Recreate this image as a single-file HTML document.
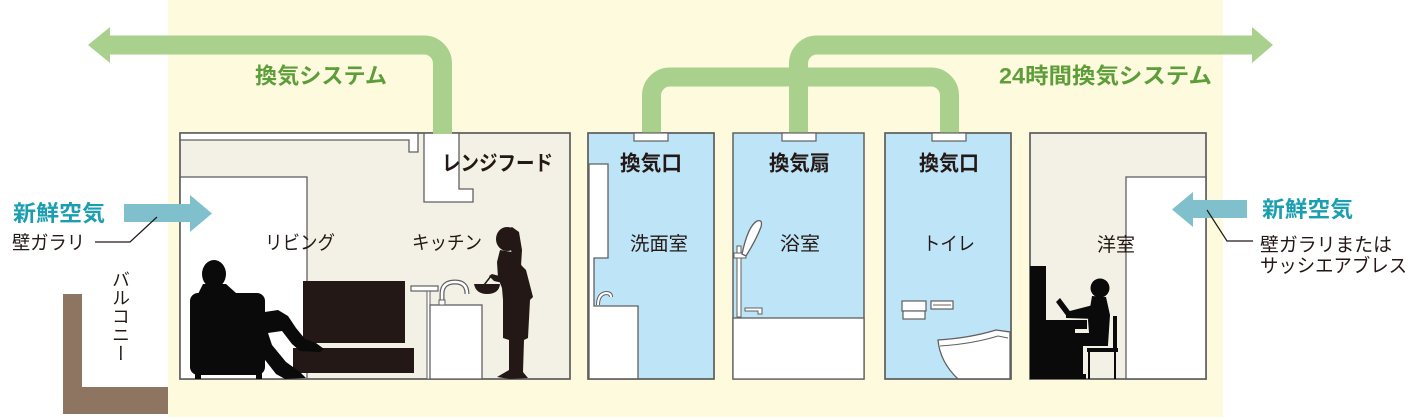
<!DOCTYPE html>
<html><head><meta charset="utf-8">
<style>
html,body{margin:0;padding:0;background:#fff;}
#wrap{position:relative;width:1420px;height:420px;overflow:hidden;background:#fff;}
svg{position:absolute;left:0;top:0;}
text{font-family:"Liberation Sans","Noto Sans CJK JP",sans-serif;}
.vt{position:absolute;left:109px;top:270px;writing-mode:vertical-rl;font-family:"Liberation Sans","Noto Sans CJK JP",sans-serif;font-size:18px;line-height:22px;color:#231815;letter-spacing:0.5px;}
</style></head><body>
<div id="wrap">
<svg width="1420" height="420" viewBox="0 0 1420 420" xmlns="http://www.w3.org/2000/svg">
  <!-- yellow background -->
  <rect x="168" y="0" width="1055" height="417" fill="#fefadd"/>
  <!-- balcony -->
  <polygon points="63,294 82,294 82,387 168,387 168,414 63,414" fill="#8e7562"/>

  <!-- Living / kitchen room -->
  <rect x="180" y="133" width="390" height="246" fill="#f3f1e6" stroke="#606060" stroke-width="1.5"/>
  <polygon points="180,133 418,133 418,152 409,152 409,140 180,140" fill="#fff" stroke="#606060" stroke-width="1.3"/>
  <rect x="180" y="177" width="127" height="202" fill="#fff" stroke="#606060" stroke-width="1.3"/>
  <polygon points="424,133 459,133 459,189 473,189 473,202 424,202" fill="#fff" stroke="#606060" stroke-width="1.3"/>
  <rect x="180" y="133" width="390" height="246" fill="none" stroke="#606060" stroke-width="1.5"/>

  <!-- TV -->
  <rect x="303" y="281" width="102" height="62" fill="#231815"/>
  <rect x="293" y="348" width="121" height="25" fill="#231815"/>
  <!-- chair + man -->
  <g fill="#0a0a0a">
    <rect x="190" y="293" width="75" height="82" rx="8"/>
    <rect x="195" y="373" width="6" height="6"/>
    <rect x="256" y="373" width="6" height="6"/>
    <ellipse cx="214" cy="274" rx="12" ry="14"/>
    <polygon points="203,284 226,284 236,293 248,305 258,313 278,310 288,316 296,328 305,339 316,343 324,349 320,352 300,351 292,344 282,331 268,333 272,345 286,362 300,372 306,378 285,379 276,374 262,356 248,346 225,340 195,332 195,300"/>
  </g>

  <!-- kitchen counter -->
  <rect x="411" y="286" width="27" height="5" fill="#fff" stroke="#606060" stroke-width="1.2"/>
  <rect x="427" y="291" width="3" height="88" fill="#fff" stroke="#606060" stroke-width="1"/>
  <rect x="430" y="305" width="52" height="74" fill="#fff" stroke="#606060" stroke-width="1.3"/>
  <path d="M442,305 V294 Q442,282 455,282 Q467,282 467,294" fill="none" stroke="#606060" stroke-width="5"/>
  <path d="M442,305 V294 Q442,282 455,282 Q467,282 467,294" fill="none" stroke="#fff" stroke-width="2.5"/>
  <rect x="439" y="300" width="6" height="5" fill="#fff" stroke="#606060" stroke-width="1"/>
  <!-- woman -->
  <g fill="#231815">
    <ellipse cx="507" cy="239" rx="11" ry="12"/>
    <polygon points="498,234 512,227 519,232 522,250 521,266 514,262 511,250"/>
    <polygon points="500,250 512,252 520,262 526,276 530,300 528,338 524,340 523,372 528,378 510,379 497,377 509,370 509,340 503,338 503,300 502,288 498,278 497,262"/>
    <polygon points="503,277 507,284 494,281 489,276 492,274"/>
    <polygon points="518,262 526,270 533,297 529,301 520,286"/>
    <path d="M474,284 L500,284 Q499,294 487,294 Q476,294 474,284 Z"/>
  </g>
  <line x1="491" y1="276" x2="484" y2="285" stroke="#231815" stroke-width="1.5"/>

  <!-- Washroom -->
  <rect x="588" y="133" width="126" height="246" fill="#bde4f7" stroke="#606060" stroke-width="1.5"/>
  <path d="M589,164 H608 V258 H594 V306 H638 V379 H589 Z" fill="#fff" stroke="#606060" stroke-width="1.3"/>
  <path d="M598,305 Q598,294 606,293 Q611,293 611,297" fill="none" stroke="#606060" stroke-width="4"/>
  <path d="M598,305 Q598,294 606,293 Q611,293 611,297" fill="none" stroke="#fff" stroke-width="2"/>
  <rect x="588" y="133" width="126" height="246" fill="none" stroke="#606060" stroke-width="1.5"/>

  <!-- Bathroom -->
  <rect x="733" y="133" width="131" height="246" fill="#bde4f7" stroke="#606060" stroke-width="1.5"/>
  <rect x="733" y="318" width="131" height="61" fill="#fff" stroke="#606060" stroke-width="1.3"/>
  <rect x="737" y="246" width="4" height="71" fill="#fff" stroke="#606060" stroke-width="1"/>
  <rect x="734" y="253" width="12" height="5" fill="#fff" stroke="#606060" stroke-width="1"/>
  <path d="M742,254 Q748,226 757,221 Q763,219 761,227 Q756,240 746,256 Z" fill="#fff" stroke="#606060" stroke-width="1.3"/>
  <path d="M745,308 H762 V314 H758 V311 H745 Z" fill="#fff" stroke="#606060" stroke-width="1"/>

  <!-- Toilet -->
  <rect x="885" y="133" width="126" height="246" fill="#bde4f7" stroke="#606060" stroke-width="1.5"/>
  <rect x="902" y="301" width="24" height="10" fill="#fff" stroke="#606060" stroke-width="1.2"/>
  <rect x="903" y="311" width="22" height="8" fill="#fff" stroke="#606060" stroke-width="1.2"/>
  <rect x="931" y="301" width="22" height="8" fill="#fff" stroke="#606060" stroke-width="1.2"/>
  <line x1="933" y1="305" x2="951" y2="305" stroke="#606060" stroke-width="1"/>
  <path d="M938,340 Q970,338 996,330 L1010,332 L1010,379 L958,379 Q940,362 938,340 Z" fill="#fff" stroke="#606060" stroke-width="1.3"/>
  <path d="M940,346 Q972,344 998,336 L1008,338" fill="none" stroke="#606060" stroke-width="1"/>
  <rect x="885" y="133" width="126" height="246" fill="none" stroke="#606060" stroke-width="1.5"/>

  <!-- Western room -->
  <rect x="1030" y="133" width="176" height="246" fill="#f3f1e6" stroke="#606060" stroke-width="1.5"/>
  <rect x="1126" y="177" width="80" height="202" fill="#fff" stroke="#606060" stroke-width="1.3"/>
  <rect x="1030" y="133" width="176" height="246" fill="none" stroke="#606060" stroke-width="1.5"/>
  <g fill="#0a0a0a">
    <rect x="1030" y="266" width="16" height="56"/>
    <rect x="1030" y="320" width="57" height="9"/>
    <rect x="1030" y="329" width="45" height="50"/>
    <polygon points="1056,302 1060,298 1072,314 1068,318"/>
    <circle cx="1100" cy="288" r="9.5"/>
    <polygon points="1092,296 1106,297 1110,315 1108,345 1090,345 1088,320"/>
    <polygon points="1093,305 1066,312 1066,318 1096,319"/>
    <polygon points="1075,333 1107,333 1108,346 1075,346"/>
    <rect x="1075" y="345" width="8" height="32"/>
    <rect x="1072" y="374" width="14" height="5"/>
    <rect x="1087" y="348" width="31" height="4"/>
    <rect x="1113" y="316" width="4" height="36"/>
    <rect x="1088" y="352" width="2" height="27"/>
    <rect x="1114" y="352" width="2" height="27"/>
  </g>

  <!-- green ducts -->
  <g fill="none" stroke="#a9d08d" stroke-width="19">
    <path d="M108,45 H424 A18.5,18.5 0 0 1 442.5,63.5 V134"/>
    <path d="M798.5,134 V63.5 A18.5,18.5 0 0 1 817,45 H1254"/>
    <path d="M651.5,134 V95.5 A18.5,18.5 0 0 1 670,77 H931 A18.5,18.5 0 0 1 949.5,95.5 V134"/>
  </g>
  <polygon points="110,27 88,45 110,63" fill="#a9d08d"/>
  <polygon points="1252,27 1273,45 1252,63" fill="#a9d08d"/>

  <!-- vents -->
  <rect x="634" y="133" width="34" height="8" fill="#fff" stroke="#606060" stroke-width="1.2"/>
  <rect x="782" y="133" width="34" height="8" fill="#fff" stroke="#606060" stroke-width="1.2"/>
  <rect x="932" y="133" width="34" height="8" fill="#fff" stroke="#606060" stroke-width="1.2"/>

  <!-- fresh-air arrows -->
  <polygon points="124,204 190,204 190,195 212,213.5 190,232 190,222 124,222" fill="#80c0cc"/>
  <polygon points="1247,200 1193,200 1193,192 1172,209.5 1193,227 1193,218 1247,218" fill="#80c0cc"/>

  <!-- leader lines -->
  <polyline points="95,242 130,242 157,217" fill="none" stroke="#231815" stroke-width="1.2"/>
  <polyline points="1253,241 1227,241 1207,210" fill="none" stroke="#231815" stroke-width="1.2"/>

  <!-- texts -->
  <g font-weight="700" fill="#5d9e3b" font-size="22">
    <text x="255" y="83.5" textLength="132" lengthAdjust="spacingAndGlyphs">換気システム</text>
    <text x="999" y="83.5" textLength="213" lengthAdjust="spacingAndGlyphs">24時間換気システム</text>
  </g>
  <g font-weight="700" fill="#1b9fb0" font-size="22">
    <text x="13" y="221" textLength="92" lengthAdjust="spacingAndGlyphs">新鮮空気</text>
    <text x="1262" y="217" textLength="91" lengthAdjust="spacingAndGlyphs">新鮮空気</text>
  </g>
  <g font-weight="700" fill="#231815" font-size="21">
    <text x="442" y="170.5" textLength="111" lengthAdjust="spacingAndGlyphs">レンジフード</text>
    <text x="620" y="170.5" textLength="62" lengthAdjust="spacingAndGlyphs">換気口</text>
    <text x="769" y="170.5" textLength="61" lengthAdjust="spacingAndGlyphs">換気扇</text>
    <text x="919" y="170.5" textLength="60" lengthAdjust="spacingAndGlyphs">換気口</text>
  </g>
  <g fill="#231815" font-size="19">
    <text x="265" y="249" textLength="70" lengthAdjust="spacingAndGlyphs">リビング</text>
    <text x="412" y="249" textLength="70" lengthAdjust="spacingAndGlyphs">キッチン</text>
    <text x="630" y="250" textLength="58" lengthAdjust="spacingAndGlyphs">洗面室</text>
    <text x="780" y="250" textLength="40" lengthAdjust="spacingAndGlyphs">浴室</text>
    <text x="923" y="250" textLength="52" lengthAdjust="spacingAndGlyphs">トイレ</text>
    <text x="1097" y="251" textLength="38" lengthAdjust="spacingAndGlyphs">洋室</text>
    <text x="12" y="249" textLength="73" lengthAdjust="spacingAndGlyphs">壁ガラリ</text>
    <text x="1260" y="251" textLength="132" lengthAdjust="spacingAndGlyphs">壁ガラリまたは</text>
    <text x="1260" y="272" textLength="147" lengthAdjust="spacingAndGlyphs">サッシエアブレス</text>
  </g>
</svg>
<div class="vt">バルコニー</div>
</div>
</body></html>
